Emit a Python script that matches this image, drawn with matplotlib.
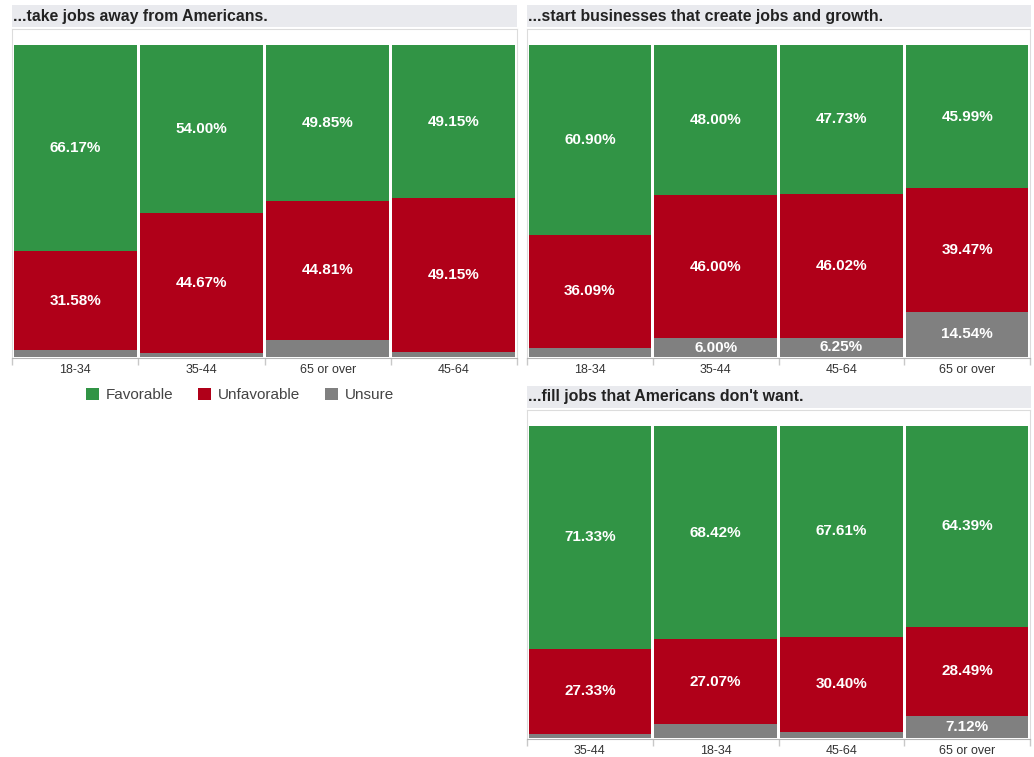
import numpy as np
import matplotlib
matplotlib.use("Agg")
import matplotlib.pyplot as plt
from matplotlib.patches import Rectangle, Patch

plt.rcParams['font.family'] = ['Liberation Sans', 'DejaVu Sans']

# ...take jobs away from Americans.
take_cats = ['18-34', '35-44', '65 or over', '45-64']
take_fav = [66.17, 54.00, 49.85, 49.15]
take_unfav = [31.58, 44.67, 44.81, 49.15]
take_unsure = [2.25, 1.33, 5.34, 1.70]

# ...start businesses that create jobs and growth.
start_cats = ['18-34', '35-44', '45-64', '65 or over']
start_fav = [60.90, 48.00, 47.73, 45.99]
start_unfav = [36.09, 46.00, 46.02, 39.47]
start_unsure = [3.01, 6.00, 6.25, 14.54]

# ...fill jobs that Americans don't want.
fill_cats = ['35-44', '18-34', '45-64', '65 or over']
fill_fav = [71.33, 68.42, 67.61, 64.39]
fill_unfav = [27.33, 27.07, 30.40, 28.49]
fill_unsure = [1.34, 4.51, 1.99, 7.12]

GREEN = '#319445'
RED = '#b00019'
GRAY = '#808080'
BAND = '#e9eaee'

W, H = 1034, 757
fig = plt.figure(figsize=(W / 100, H / 100), dpi=100)


def title_band(x0, y0, x1, y1, text):
    fig.patches.append(Rectangle((x0 / W, 1 - y1 / H), (x1 - x0) / W, (y1 - y0) / H,
                                 transform=fig.transFigure, facecolor=BAND, edgecolor='none'))
    fig.text((x0 + 1) / W, 1 - (y0 + y1) / 2 / H, text, fontsize=11.4, fontweight='bold',
             color='#222222', va='center', ha='left')


def panel(x0, y0, x1, y1, cats, fav, unfav, unsure):
    # y0 = frame top, y1 = bar baseline; bars reach 100% 16px under frame top
    ppu = (y1 - 16 - y0) / 100.0
    ax = fig.add_axes([x0 / W, 1 - (y1 + 1) / H, (x1 - x0) / W, (y1 + 1 - y0) / H])
    x = np.arange(len(cats))
    fav = np.array(fav)
    unfav = np.array(unfav)
    unsure = np.array(unsure)
    wid = 0.975
    ax.bar(x, unsure, width=wid, color=GRAY)
    ax.bar(x, unfav, bottom=unsure, width=wid, color=RED)
    ax.bar(x, fav, bottom=unsure + unfav, width=wid, color=GREEN)
    for i in range(len(cats)):
        segs = [(unsure[i], 0), (unfav[i], unsure[i]), (fav[i], unsure[i] + unfav[i])]
        for v, b in segs:
            if v >= 6:
                ax.text(x[i], b + v / 2, f"{v:.2f}%", ha='center', va='center',
                        color='white', fontsize=11, fontweight='bold')
    ax.set_xlim(-0.5, len(cats) - 0.5)
    ax.set_ylim(-1 / ppu, 100 + 16 / ppu)
    ax.set_yticks([])
    ax.set_xticks(x)
    ax.set_xticklabels(cats, fontsize=9, color='#333333')
    ax.set_xticks(np.arange(len(cats) + 1) - 0.5, minor=True)
    ax.tick_params(axis='x', which='major', length=0, pad=4)
    ax.tick_params(axis='x', which='minor', length=5, color='#c8c8c8', width=1)
    for s in ['top', 'left', 'right']:
        ax.spines[s].set_color('#dcdcdc')
    ax.spines['bottom'].set_color('#b4b4b4')
    return ax


title_band(12, 5, 517, 27, '...take jobs away from Americans.')
ax1 = panel(12, 29, 517, 357, take_cats, take_fav, take_unfav, take_unsure)

title_band(527, 5, 1031, 27, '...start businesses that create jobs and growth.')
panel(527, 29, 1030, 357, start_cats, start_fav, start_unfav, start_unsure)

title_band(527, 386, 1031, 408, "...fill jobs that Americans don't want.")
panel(527, 410, 1030, 738, fill_cats, fill_fav, fill_unfav, fill_unsure)

handles = [Patch(facecolor=GREEN, label='Favorable'),
           Patch(facecolor=RED, label='Unfavorable'),
           Patch(facecolor=GRAY, label='Unsure')]
fig.legend(handles=handles, loc='center', bbox_to_anchor=(240 / W, 1 - 395 / H), ncol=3,
           frameon=False, fontsize=11, handlelength=0.85, handleheight=0.85,
           handletextpad=0.45, columnspacing=1.6, labelcolor='#444444')

fig.savefig('out.png', dpi=100)
